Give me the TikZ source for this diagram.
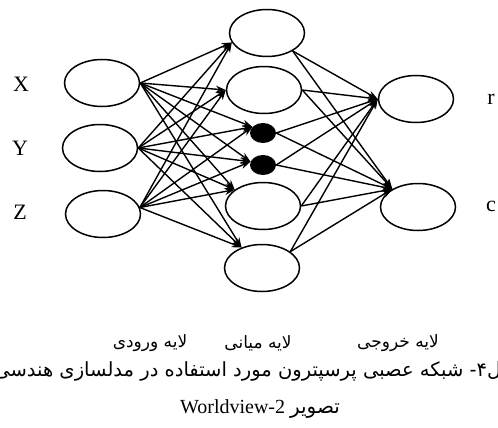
\documentclass[tikz,border=0pt]{standalone}
\usepackage{fontspec}
\setmainfont{Liberation Serif}
\newfontfamily\fa[Script=Arabic]{DejaVu Sans}
\TeXXeTstate=1
\usetikzlibrary{arrows.meta,shapes.geometric}
\begin{document}
\begin{tikzpicture}[x=1pt,y=-1pt,
  neur/.style={draw, ellipse, line width=1.5pt, minimum width=75pt, minimum height=47pt, inner sep=0pt},
  blackdot/.style={fill, ellipse, minimum width=26pt, minimum height=20pt, inner sep=0pt},
  conn/.style={line width=1.4pt, -{Stealth[length=10pt,width=7pt]}},
  varlbl/.style={font=\fontsize{22}{24}\selectfont},
  falbl/.style={font=\fa\fontsize{17}{19}\selectfont},
  capt/.style={font=\fa\fontsize{19.5}{22}\selectfont, inner sep=0pt}]
\useasboundingbox (0,0) rectangle (498,428);
\clip (0,0) rectangle (498,428);
% input layer
\node[neur] (x) at (102,83) {};
\node[neur] (y) at (100,148) {};
\node[neur] (z) at (103,214) {};
% hidden layer
\node[neur] (h1) at (267,33) {};
\node[neur] (h2) at (264,90) {};
\node[blackdot] (h3) at (263,133) {};
\node[blackdot] (h4) at (263,165) {};
\node[neur] (h5) at (263,206) {};
\node[neur] (h6) at (262,268) {};
% output layer
\node[neur] (o1) at (416,99) {};
\node[neur] (o2) at (418,207) {};
% connections input -> hidden
\foreach \s/\sa in {x/east, y/east, z/10}
  \foreach \t/\ta in {h1/195, h2/180, h3/150, h4/165, h5/150, h6/135}
    \draw[conn] (\s.\sa) -- (\t.\ta);
% connections hidden -> output
\foreach \s/\sa in {h1/-35, h2/east, h3/east, h4/east, h5/east, h6/30}
  \foreach \t/\ta in {o1/180, o2/145}
    \draw[conn] (\s.\sa) -- (\t.\ta);
% variable labels
\node[varlbl] (lx) at (21,84) {X};
\node[varlbl] (ly) at (20,148) {Y};
\node[varlbl] (lz) at (20,212) {Z};
\node[varlbl] (lr) at (491,99) {r};
\node[varlbl] (lc) at (491,206) {c};
% layer labels
\node[falbl] (lin) at (150,343) {\beginR لایه ورودی\endR};
\node[falbl] (lhid) at (258,343) {\beginR لایه میانی\endR};
\node[falbl] (lout) at (398,343) {\beginR لایه خروجی\endR};
% caption
\node[capt, anchor=east] (cap) at (502,371) {\beginR ‍ل۴- شبکه عصبی پرسپترون مورد استفاده در مدلسازی هندسی\endR};
\node[font=\fontsize{20}{22}\selectfont] (cap2) at (260,409) {\beginR{\fa تصویر} \beginL Worldview-2\endL\endR};
\end{tikzpicture}
\end{document}
